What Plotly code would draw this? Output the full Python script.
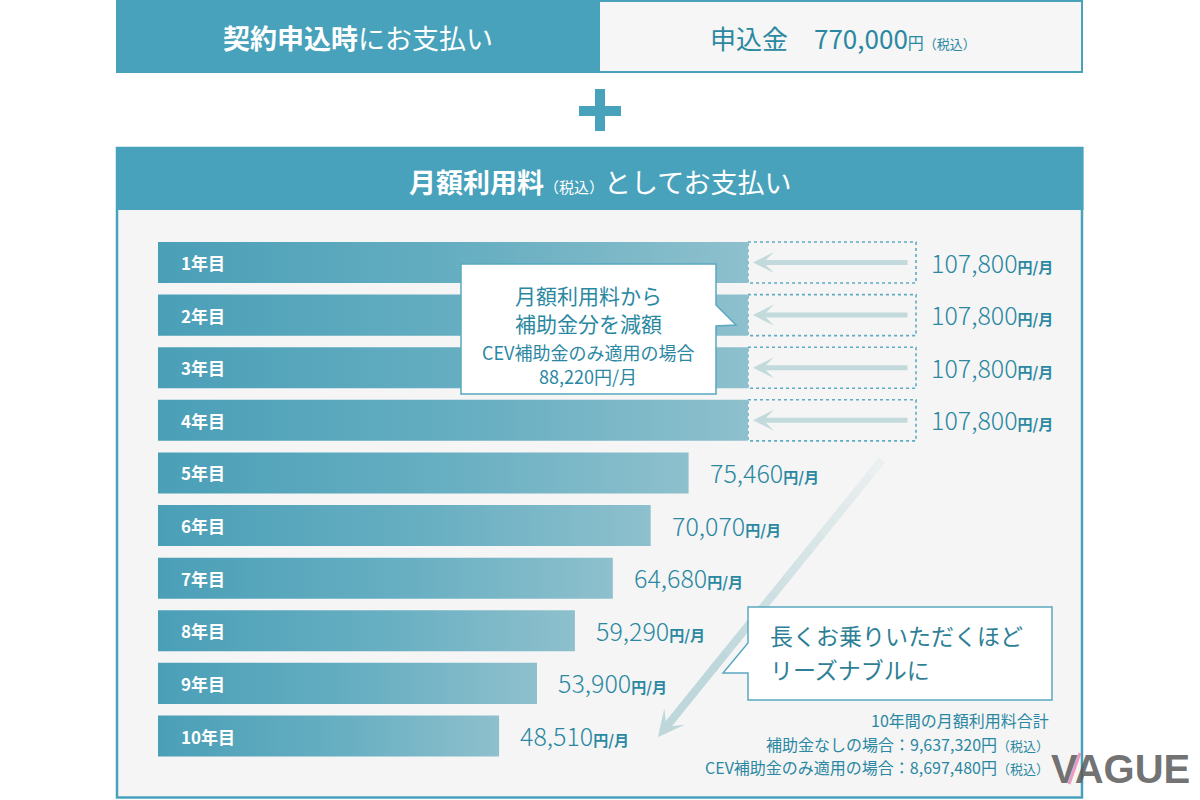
import plotly.graph_objects as go

# ---------------- data ----------------
years = ["1年目", "2年目", "3年目", "4年目", "5年目", "6年目", "7年目", "8年目", "9年目", "10年目"]
monthly_fee = [107800, 107800, 107800, 107800, 75460, 70070, 64680, 59290, 53900, 48510]
# solid part of bars as drawn (years 1-4 reduced by subsidy, shown shorter)
solid_bar = [83900, 83900, 83900, 83900, 75460, 70070, 64680, 59290, 53900, 48510]
fee_labels = ["107,800", "107,800", "107,800", "107,800", "75,460", "70,070", "64,680", "59,290", "53,900", "48,510"]
subsidy_fee_label = "88,220円/月"
application_fee_label = "770,000"
total_no_subsidy = "9,637,320"
total_cev = "8,697,480"

# ---------------- style ----------------
W, H = 1200, 800
TEAL = "#48a2bb"
PANEL = "#f5f5f5"
TXT = "#2b88a2"
ARROW = "#c3dadd"
FONT = "Noto Sans CJK JP, Noto Sans, sans-serif"

def px(x):
    return x / W

def py(y):
    return 1 - y / H

# axis mapping (layout)
X0_PX, XFULL_PX = 158, 916
ppu = (XFULL_PX - X0_PX) / max(monthly_fee)
xr = [-X0_PX / ppu, (W - X0_PX) / ppu]
Y0_PX, Y9_PX = 262.5, 736
ppy = (Y9_PX - Y0_PX) / (len(years) - 1)
yr = [len(years) - 1 + (H - Y9_PX) / ppy, -Y0_PX / ppy]
half = 0.39

fig = go.Figure()

# gradient bars
for i, v in enumerate(solid_bar):
    fig.add_trace(go.Scatter(
        x=[0, v, v, 0, 0], y=[i - half, i - half, i + half, i + half, i - half],
        mode="lines", line=dict(width=0), fill="toself",
        fillgradient=dict(type="horizontal", colorscale=[[0, "#4a9fb7"], [0.55, "#68afc2"], [1, "#8ec0cd"]]),
        hoverinfo="skip", showlegend=False))

shapes = []
annotations = []

def note(x, y, text, size, color=TXT, xanchor="center", yanchor="middle", weight=None, family=FONT, align="center"):
    f = dict(family=family, size=size, color=color)
    if weight is not None:
        f["weight"] = weight
    annotations.append(dict(xref="paper", yref="paper", x=px(x), y=py(y), xanchor=xanchor, yanchor=yanchor,
                            showarrow=False, text=text, font=f, align=align))

# --- top header ---
shapes.append(dict(type="rect", xref="paper", yref="paper", x0=px(116), x1=px(1083), y0=py(73), y1=py(0),
                   fillcolor=TEAL, line=dict(width=0), layer="below"))
shapes.append(dict(type="rect", xref="paper", yref="paper", x0=px(600), x1=px(1081), y0=py(71), y1=py(2),
                   fillcolor="#f6f6f6", line=dict(width=0), layer="below"))
note(358, 38, "<b>契約申込時</b>にお支払い", 27, color="white")
note(843, 38, "申込金　" + application_fee_label + "<span style='font-size:16px'>円</span>"
     + "<span style='font-size:13px'>（税込）</span>", 26, weight=400)

# --- plus sign ---
shapes.append(dict(type="rect", xref="paper", yref="paper", x0=px(579), x1=px(621), y0=py(116), y1=py(106),
                   fillcolor=TEAL, line=dict(width=0), layer="below"))
shapes.append(dict(type="rect", xref="paper", yref="paper", x0=px(595), x1=px(605), y0=py(131), y1=py(89),
                   fillcolor=TEAL, line=dict(width=0), layer="below"))

# --- main panel ---
shapes.append(dict(type="rect", xref="paper", yref="paper", x0=px(117), x1=px(1082), y0=py(797.5), y1=py(148),
                   fillcolor=PANEL, line=dict(width=2.5, color=TEAL), layer="below"))
shapes.append(dict(type="rect", xref="paper", yref="paper", x0=px(116), x1=px(1083.5), y0=py(210), y1=py(147),
                   fillcolor=TEAL, line=dict(width=0), layer="below"))
note(600, 181, "<b>月額利用料</b><span style='font-size:15px'>（税込）</span>としてお支払い", 27, color="white")

# --- dashed boxes + small arrows + labels ---
for i, (v, s) in enumerate(zip(monthly_fee, solid_bar)):
    if v > s:
        shapes.append(dict(type="rect", xref="x", yref="y", x0=s, x1=v, y0=i - half, y1=i + half,
                           line=dict(color="#5eabc3", width=1.6, dash="3px,3px"), fillcolor="rgba(0,0,0,0)",
                           layer="below"))
        annotations.append(dict(xref="x", yref="y", x=s, y=i, axref="x", ayref="y", ax=v, ay=i,
                                text="", showarrow=True, arrowhead=3, arrowsize=0.7, arrowwidth=5,
                                arrowcolor=ARROW, standoff=5, startstandoff=7))
    annotations.append(dict(xref="x", yref="y", x=v, y=i, xanchor="left", yanchor="middle",
                            xshift=13 if v > s else 19, yshift=1, showarrow=False,
                            text=fee_labels[i] + "<span style='font-size:15px'><b>円/月</b></span>",
                            font=dict(family=FONT, size=25, color=TXT, weight=300)))
    annotations.append(dict(xref="x", yref="y", x=0, y=i, xanchor="left", yanchor="middle",
                            xshift=21, showarrow=False, text="<b>" + years[i] + "</b>",
                            font=dict(family=FONT, size=17, color="white")))

# --- big diagonal arrow (fading) ---
tx, ty = 882, 460
hx, hy = 658, 737
n = 14
c0 = (0xf5, 0xf5, 0xf5)
c1 = (0xbd, 0xd7, 0xdb)
for k in range(n):
    t0 = 0.75 * k / n
    t1 = 0.75 * (k + 1) / n + 0.005
    f = (k + 0.5) / n
    col = "rgb(%d,%d,%d)" % tuple(int(c0[j] + (c1[j] - c0[j]) * (0.15 + 0.85 * f)) for j in range(3))
    shapes.append(dict(type="line", xref="paper", yref="paper",
                       x0=px(tx + (hx - tx) * t0), y0=py(ty + (hy - ty) * t0),
                       x1=px(tx + (hx - tx) * t1), y1=py(ty + (hy - ty) * t1),
                       line=dict(color=col, width=8), layer="below"))
ta = 0.74
annotations.append(dict(xref="paper", yref="paper", x=px(hx), y=py(hy),
                        ax=(tx + (hx - tx) * ta) - hx, ay=(ty + (hy - ty) * ta) - hy,
                        text="", showarrow=True, arrowhead=3, arrowsize=0.55, arrowwidth=8,
                        arrowcolor="rgb(189,215,219)"))

# --- callout boxes ---
def path(points):
    return "M " + " L ".join("%f,%f" % (px(a), py(b)) for a, b in points) + " Z"

shapes.append(dict(type="path", xref="paper", yref="paper",
                   path=path([(461, 264), (716, 264), (716, 305), (736, 325), (716, 326), (716, 394), (461, 394)]),
                   fillcolor="white", line=dict(color="#5aa8c0", width=1.5), layer="above"))
shapes.append(dict(type="path", xref="paper", yref="paper",
                   path=path([(748, 607), (1052, 607), (1052, 700), (748, 700), (748, 673), (723, 673), (748, 643)]),
                   fillcolor="white", line=dict(color="#5aa8c0", width=1.5), layer="above"))

for text, yy, size in [("月額利用料から", 295, 21), ("補助金分を減額", 323, 21),
                       ("CEV補助金のみ適用の場合", 352, 18), (subsidy_fee_label, 376, 18)]:
    note(588, yy, text, size)

for text, yy in [("長くお乗りいただくほど", 635), ("リーズナブルに", 669)]:
    note(768, yy, text, 23, color="#2e7f96", xanchor="left", align="left")

# --- totals ---
tot_lines = [
    ("10年間の月額利用料合計", 720),
    ("補助金なしの場合：" + total_no_subsidy + "円<span style='font-size:13px'>（税込）</span>", 743.5),
    ("CEV補助金のみ適用の場合：" + total_cev + "円<span style='font-size:13px'>（税込）</span>", 767),
]
for text, yy in tot_lines:
    note(1051, yy, text, 16, xanchor="right", align="right")

# --- watermark ---
note(1120, 769, "<b>VAGUE</b>", 40, color="rgba(90,90,90,0.85)",
     family="Liberation Sans Narrow, Liberation Sans, sans-serif")
shapes.append(dict(type="line", xref="paper", yref="paper", x0=px(1069), y0=py(784), x1=px(1080), y1=py(753),
                   line=dict(color="rgba(240,120,170,0.75)", width=3), layer="above"))

fig.update_layout(
    width=W, height=H, margin=dict(l=0, r=0, t=0, b=0),
    paper_bgcolor="white", plot_bgcolor="rgba(0,0,0,0)",
    xaxis=dict(range=xr, visible=False, domain=[0, 1], fixedrange=True),
    yaxis=dict(range=yr, visible=False, domain=[0, 1], fixedrange=True),
    shapes=shapes, annotations=annotations, showlegend=False,
)

fig.write_html("out.html")
